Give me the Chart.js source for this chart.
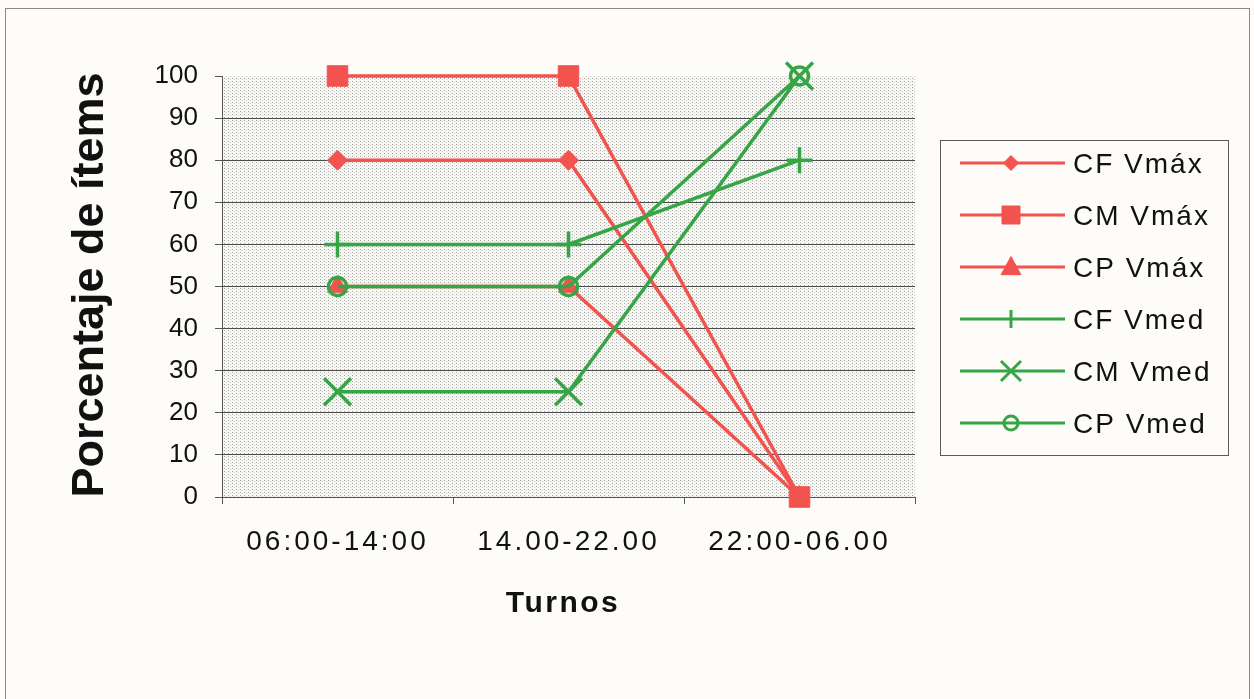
<!DOCTYPE html>
<html>
<head>
<meta charset="utf-8">
<script src="https://cdn.jsdelivr.net/npm/chart.js@4.4.1/dist/chart.umd.min.js"></script>
<style>
html,body{margin:0;padding:0;background:#fdfcf8;overflow:hidden;}
#wrap{width:1254px;height:699px;position:relative;}
canvas{display:block;}
</style>
</head>
<body>
<div id="wrap"><canvas id="c" width="1254" height="699"></canvas></div>
<script>
// ---- data ----
const categories = ['06:00-14:00', '14.00-22.00', '22:00-06.00'];
const seriesNames = ['CF Vmáx', 'CM Vmáx', 'CP Vmáx', 'CF Vmed', 'CM Vmed', 'CP Vmed'];
const cfVmax = [80, 80, 0];
const cmVmax = [100, 100, 0];
const cpVmax = [50, 50, 0];
const cfVmed = [60, 60, 80];
const cmVmed = [25, 25, 100];
const cpVmed = [50, 50, 100];
const yMin = 0, yMax = 100, yStep = 10;
const yTitle = 'Porcentaje de ítems';
const xTitle = 'Turnos';

// ---- styles ----
const RED = '#f2534e';
const GREEN = '#36a546';
const FONT = '"Liberation Sans", Arial, sans-serif';

// drawing order (lower = drawn later / on top)
const drawOrder = [6, 4, 5, 3, 2, 1];

const styles = [
  {color: RED,   style: 'rectRot',  r: 10,   bw: 1, fill: RED},
  {color: RED,   style: 'rect',     r: 14.5, bw: 1, fill: RED},
  {color: RED,   style: 'triangle', r: 11.5, bw: 1, fill: RED},
  {color: GREEN, style: 'cross',    r: 13,   bw: 3.5, fill: GREEN},
  {color: GREEN, style: 'crossRot', r: 19,   bw: 3.5, fill: GREEN},
  {color: GREEN, style: 'circle',   r: 9,    bw: 3.5, fill: 'rgba(0,0,0,0)'}
];
const seriesValues = [cfVmax, cmVmax, cpVmax, cfVmed, cmVmed, cpVmed];

const datasets = seriesValues.map((vals, i) => ({
  label: seriesNames[i],
  data: vals,
  borderColor: styles[i].color,
  backgroundColor: styles[i].color,
  borderWidth: 3.5,
  pointStyle: styles[i].style,
  pointRadius: styles[i].r,
  pointHoverRadius: styles[i].r,
  pointBorderWidth: styles[i].bw,
  pointBorderColor: styles[i].color,
  pointBackgroundColor: styles[i].fill,
  tension: 0,
  clip: false,
  order: drawOrder[i]
}));

// dotted plot background pattern
function makePattern(ctx) {
  const p = document.createElement('canvas');
  p.width = 4; p.height = 3;
  const c = p.getContext('2d');
  c.fillStyle = '#f7f7f3';
  c.fillRect(0, 0, 4, 3);
  c.fillStyle = '#a4a4a2';
  c.fillRect(0, 0, 1, 1);
  c.fillStyle = '#d0d0cc';
  c.fillRect(2, 1, 1, 1);
  return ctx.createPattern(p, 'repeat');
}

function marker(ctx, style, x, y, s) {
  ctx.beginPath();
  switch (style) {
    case 'rectRot':
      ctx.moveTo(x - s, y); ctx.lineTo(x, y - s); ctx.lineTo(x + s, y); ctx.lineTo(x, y + s); ctx.closePath();
      ctx.fill(); ctx.stroke(); break;
    case 'rect':
      ctx.rect(x - s, y - s, 2 * s, 2 * s); ctx.fill(); ctx.stroke(); break;
    case 'triangle':
      ctx.moveTo(x, y - s * 0.95); ctx.lineTo(x + s * 0.9, y + s * 0.7); ctx.lineTo(x - s * 0.9, y + s * 0.7); ctx.closePath();
      ctx.fill(); ctx.stroke(); break;
    case 'cross':
      ctx.moveTo(x, y - s); ctx.lineTo(x, y + s); ctx.stroke(); break;
    case 'crossRot':
      ctx.moveTo(x - s, y - s); ctx.lineTo(x + s, y + s);
      ctx.moveTo(x + s, y - s); ctx.lineTo(x - s, y + s); ctx.stroke(); break;
    case 'circle':
      ctx.arc(x, y, s, 0, Math.PI * 2); ctx.stroke(); break;
  }
}

const decor = {
  id: 'decor',
  beforeDraw(chart) {
    const ctx = chart.ctx;
    const a = chart.chartArea;
    ctx.save();
    ctx.fillStyle = '#fdfcf8';
    ctx.fillRect(0, 0, chart.width, chart.height);
    ctx.fillStyle = makePattern(ctx);
    ctx.fillRect(a.left, a.top, a.right - a.left, a.bottom - a.top);
    ctx.strokeStyle = '#8a8a88';
    ctx.lineWidth = 1;
    ctx.strokeRect(5.5, 8.5, 1244, 720);
    ctx.restore();
    // letter spacing for x tick labels
    const s = chart.scales.x;
    if (s && !s.__patched) {
      const orig = s.drawLabels;
      s.drawLabels = function (area) {
        const c = this.ctx;
        const prev = c.letterSpacing;
        c.letterSpacing = '3px';
        orig.call(this, area);
        c.letterSpacing = prev || '0px';
      };
      s.__patched = true;
    }
  },
  afterDraw(chart) {
    const ctx = chart.ctx;
    ctx.save();
    ctx.fillStyle = '#111';
    // y title
    ctx.save();
    ctx.translate(103, 285);
    ctx.rotate(-Math.PI / 2);
    ctx.font = 'bold 45px ' + FONT;
    ctx.textAlign = 'center';
    ctx.textBaseline = 'alphabetic';
    ctx.fillText(yTitle, 0, 0);
    ctx.restore();
    // x title
    ctx.font = 'bold 30px ' + FONT;
    ctx.letterSpacing = '2.5px';
    ctx.textAlign = 'center';
    ctx.textBaseline = 'alphabetic';
    ctx.fillText(xTitle, 563, 612);
    ctx.letterSpacing = '0px';
    // legend box
    ctx.strokeStyle = '#5a5a5a';
    ctx.lineWidth = 1;
    ctx.strokeRect(940.5, 140.5, 288, 315);
    const sizes = [7.5, 9, 11, 9, 10, 7];
    chart.data.datasets.forEach((ds, i) => {
      const y = 163 + i * 52;
      ctx.strokeStyle = ds.borderColor;
      ctx.fillStyle = ds.borderColor;
      ctx.lineWidth = 3;
      ctx.beginPath();
      ctx.moveTo(960, y); ctx.lineTo(1065, y); ctx.stroke();
      ctx.lineWidth = (i >= 3) ? 3 : 1;
      marker(ctx, styles[i].style, 1011, y, sizes[i]);
      ctx.fillStyle = '#111';
      ctx.font = '28px ' + FONT;
      ctx.letterSpacing = '2px';
      ctx.textAlign = 'left';
      ctx.textBaseline = 'alphabetic';
      ctx.fillText(ds.label, 1073, y + 10);
      ctx.letterSpacing = '0px';
    });
    ctx.restore();
  }
};

new Chart(document.getElementById('c'), {
  type: 'line',
  data: {labels: categories, datasets: datasets},
  options: {
    responsive: false,
    animation: false,
    events: [],
    layout: {padding: {left: 0, right: 339, top: 76, bottom: 0}},
    plugins: {legend: {display: false}, tooltip: {enabled: false}, title: {display: false}},
    scales: {
      x: {
        type: 'category',
        offset: true,
        grid: {offset: true, drawOnChartArea: false, drawTicks: true, tickLength: 7, tickColor: '#555', lineWidth: 1},
        border: {display: true, color: '#555', width: 1},
        ticks: {font: {family: FONT, size: 28}, color: '#111', padding: 21, maxRotation: 0, autoSkip: false},
        afterFit(s) { s.height = 202; }
      },
      y: {
        min: yMin, max: yMax,
        ticks: {stepSize: yStep, font: {family: FONT, size: 26}, color: '#111', padding: 17},
        grid: {
          color: c => (c.tick && (c.tick.value === yMax || c.tick.value === yMin)) ? 'rgba(0,0,0,0)' : '#4a4a4a',
          tickColor: '#555', tickLength: 7, lineWidth: 1
        },
        border: {display: true, color: '#555', width: 1},
        afterFit(s) { s.width = 222; }
      }
    }
  },
  plugins: [decor]
});
</script>
</body>
</html>
